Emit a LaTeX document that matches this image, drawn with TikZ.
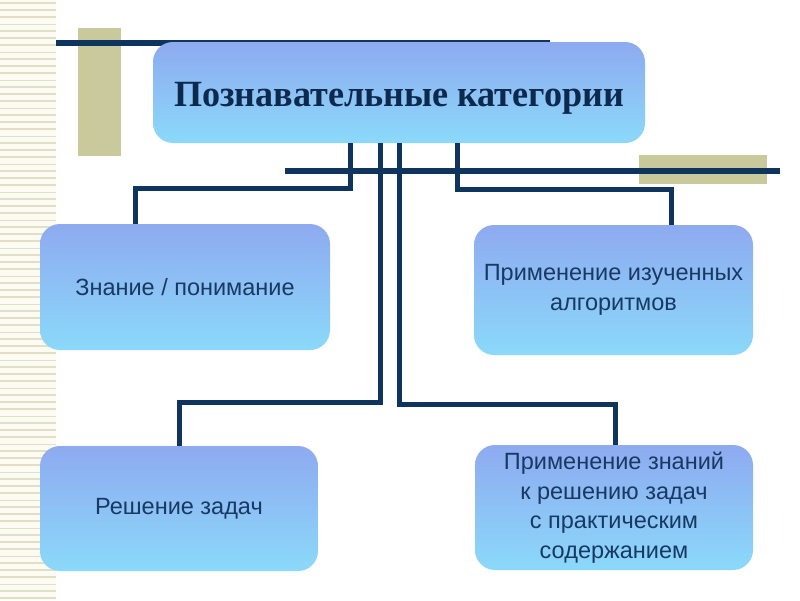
\documentclass[tikz,border=0pt]{standalone}
\usepackage{fontspec}
\usepackage{graphicx}
\setmainfont{Liberation Sans}
\newfontfamily\titlefont{Liberation Serif}
\usetikzlibrary{positioning, calc}
\definecolor{navy}{HTML}{0F355F}
\definecolor{khaki}{HTML}{C9C99B}
\definecolor{stripe}{HTML}{E2E0C4}
\definecolor{cream}{HTML}{FBFBF4}
\definecolor{boxtop}{HTML}{8EAAF0}
\definecolor{boxbottom}{HTML}{8BD9FA}
\definecolor{ink}{HTML}{183963}
\definecolor{titleink}{HTML}{0D2A4E}
\tikzset{
  catbox/.style={
    rectangle, rounded corners=20pt,
    top color=boxtop, bottom color=boxbottom, draw=none,
    anchor=north west, outer sep=0pt, inner sep=4pt,
    align=center, text=ink, font=\fontsize{23.5}{29.5}\selectfont
  },
  titlebox/.style={catbox, text=titleink, font=\titlefont\bfseries\fontsize{37}{42}\selectfont},
  bar/.style={draw=navy, line width=6pt},
  link/.style={draw=navy, line width=5pt},
  patch/.style={fill=khaki, draw=none},
}

\begin{document}
\begin{tikzpicture}[x=1pt, y=-1pt]
  \useasboundingbox (0,0) rectangle (800,600);
  \fill[white] (0,0) rectangle (800,600);

  % striped margin
  \fill[cream] (0,0) rectangle (56,600);
  \foreach \y [count=\i, evaluate=\i as \w using {0.8+mod(\i*5,4)*0.55}] in {3,10,...,598}
    \draw[stripe, line width=\w pt] (0,\y) -- (56,\y);

  % decoration
  \fill[patch] (78,28) rectangle (121,156);
  \fill[patch] (639,155) rectangle (767,184);
  \draw[bar] (56,43) -- (550,43);
  \draw[bar] (285,171) -- (780,171);

  \node[titlebox, minimum width=492pt, minimum height=101pt] (cat) at (153,42)
    {\raisebox{-6pt}[\height][\depth]{\resizebox{450pt}{\height}{Познавательные категории}}};
  \node[catbox, minimum width=290pt, minimum height=126pt] (know) at (40,224) {Знание / понимание};
  \node[catbox, minimum width=279pt, minimum height=130pt] (algo) at (474,225) {Применение изученных\\алгоритмов};
  \node[catbox, minimum width=278pt, minimum height=125pt] (solve) at (40,446) {Решение задач};
  \node[catbox, minimum width=278pt, minimum height=125pt] (apply) at (475,445)
    {Применение знаний\\к решению задач\\с практическим\\содержанием};

  \draw[link] (cat.south -| 350,0) |- ++(-215,45) -- (know.north -| 135,0);
  \draw[link] (cat.south -| 457,0) |- ++(214,46) -- (algo.north -| 671,0);
  \draw[link] (cat.south -| 380,0) |- ++(-201,259) -- (solve.north -| 179,0);
  \draw[link] (cat.south -| 399,0) |- ++(216,261) -- (apply.north -| 615,0);
\end{tikzpicture}
\end{document}
